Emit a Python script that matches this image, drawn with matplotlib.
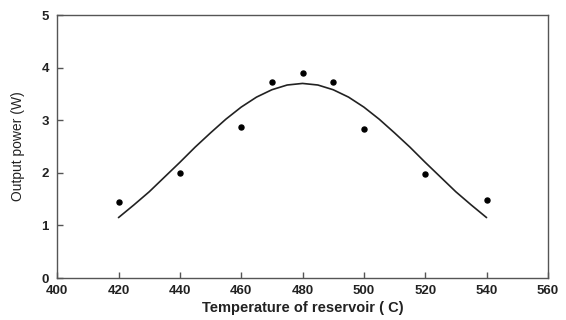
import numpy as np
import matplotlib
matplotlib.use("Agg")
from matplotlib import pyplot as plt

# measured points
temp_points = [420, 440, 460, 470, 480, 490, 500, 520, 540]
power_points = [1.45, 2.0, 2.88, 3.72, 3.9, 3.72, 2.83, 1.97, 1.48]

curve_temp = [420, 425, 430, 435, 440, 445, 450, 455, 460, 465, 470, 475, 480,
              485, 490, 495, 500, 505, 510, 515, 520, 525, 530, 535, 540]
curve_power = [1.15, 1.39, 1.64, 1.92, 2.20, 2.49, 2.76, 3.02, 3.25, 3.44, 3.58, 3.67, 3.70,
               3.67, 3.58, 3.44, 3.25, 3.02, 2.76, 2.49, 2.20, 1.92, 1.64, 1.39, 1.15]

x_ticks = [400, 420, 440, 460, 480, 500, 520, 540, 560]
y_ticks = [0, 1, 2, 3, 4, 5]

plt.rcParams['font.family'] = ['Liberation Sans', 'DejaVu Sans']

fig = plt.figure(figsize=(5.66, 3.2), dpi=100)
ax = fig.add_axes([0.101, 0.131, 0.867, 0.822])

ax.plot(curve_temp, curve_power, color='#222222', linewidth=1.2, solid_capstyle='round')
ax.plot(temp_points, power_points, 'o', color='black', markersize=3.6)

ax.set_xlim(400, 560)
ax.set_ylim(0, 5)
ax.set_xticks(x_ticks)
ax.set_yticks(y_ticks)
ax.tick_params(which='major', direction='in', length=4, width=1.0, color='#555555',
               labelcolor='#222222', labelsize=9.5,
               bottom=True, left=True, top=False, right=False)
ax.tick_params(axis='x', pad=5)
ax.tick_params(axis='y', pad=6)
for lbl in ax.get_xticklabels() + ax.get_yticklabels():
    lbl.set_fontweight('bold')

for side in ax.spines.values():
    side.set_color('#555555')
    side.set_linewidth(1.0)

ax.set_xlabel('Temperature of reservoir ( C)', fontsize=10.5, fontweight='bold',
              color='#222222', labelpad=3)
ax.set_ylabel('Output power (W)', fontsize=10, color='#222222', labelpad=12)

fig.savefig('out.png', dpi=100)
